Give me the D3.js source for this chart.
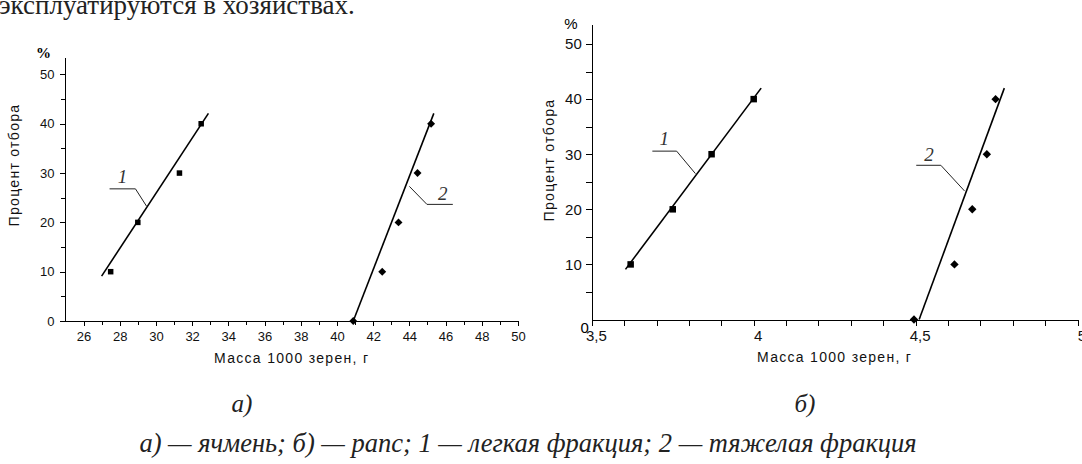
<!DOCTYPE html>
<meta charset="utf-8">
<style>
body { margin: 0; background: #fff; }
svg { display: block; }
.axis path, .axis line { stroke: #000; stroke-width: 1px; shape-rendering: crispEdges; fill: none; }
.axis text { font-family: 'Liberation Sans', Arial, sans-serif; fill: #111; }
.axis-title { font-family: 'Liberation Sans', Arial, sans-serif; font-size: 14px; letter-spacing: 1.3px; fill: #111; }
.fit-line { fill: none; stroke: #000; stroke-width: 1.6px; }
.leader { fill: none; stroke: #222; stroke-width: 1px; }
.curve-label { font-family: 'Liberation Serif', 'Times New Roman', serif; font-style: italic; font-size: 19px; fill: #333; text-anchor: middle; }
.caption { font-family: 'Liberation Serif', 'Times New Roman', serif; font-style: italic; fill: #222; }
</style>
<body>
<svg width="1082" height="464"></svg>
<script src="https://d3js.org/d3.v7.min.js"></script>
<script>
// а) ячмень: масса 1000 зерен (г) против процента отбора
var barleyLightX = [27.5, 29.0, 31.3, 32.5];
var barleyLightY = [10, 20, 30, 40];
var barleyHeavyX = [40.9, 42.5, 43.4, 44.45, 45.2];
var barleyHeavyY = [0, 10, 20, 30, 40];
var barleyLightFitX = [27.0, 32.9];
var barleyLightFitY = [9.1, 42.1];
var barleyHeavyFitX = [40.9, 45.35];
var barleyHeavyFitY = [0, 42.1];

// б) рапс
var rapeLightX = [3.62, 3.75, 3.87, 4.0];
var rapeLightY = [10, 20, 30, 40];
var rapeHeavyX = [4.495, 4.62, 4.675, 4.72, 4.747];
var rapeHeavyY = [0, 10, 20, 30, 40];
var rapeLightFitX = [3.604, 4.023];
var rapeLightFitY = [9.1, 42.0];
var rapeHeavyFitX = [4.511, 4.774];
var rapeHeavyFitY = [0, 42.0];

// tick values / labels
var barleyMajorX = d3.range(26, 51, 2);
var barleyMinorX = d3.range(27, 50, 2);
var rapeMajorX = [3.5, 4, 4.5, 5];
var rapeMinorX = [3.6, 3.7, 3.8, 3.9, 4.1, 4.2, 4.3, 4.4, 4.6, 4.7, 4.8, 4.9];
var yMajor = [0, 10, 20, 30, 40, 50];
var yMinor = [5, 15, 25, 35, 45];

var xTitle = "Масса 1000 зерен, г";
var yTitle = "Процент отбора";
var captionText = "а) — ячмень; б) — рапс; 1 — легкая фракция; 2 — тяжелая фракция";

var svg = d3.select("svg");

// text above the figure (cut off by the crop)
svg.append("text")
    .attr("x", -1).attr("y", 14)
    .attr("class", "caption")
    .style("font-style", "normal")
    .style("font-size", "27px")
    .text("эксплуатируются в хозяйствах.");

function drawPanel(p) {
  var x = d3.scaleLinear().domain(p.xDomain).range(p.xRange);
  var y = d3.scaleLinear().domain([0, p.yTop]).range(p.yRange);
  var g = svg.append("g");

  // minor ticks first
  g.append("g").attr("class", "axis")
      .attr("transform", "translate(0," + p.yRange[0] + ")")
      .call(d3.axisBottom(x).tickValues(p.minorX).tickSize(p.minorLen).tickFormat(""))
      .select(".domain").remove();
  g.append("g").attr("class", "axis")
      .attr("transform", "translate(" + p.xRange[0] + ",0)")
      .call(d3.axisLeft(y).tickValues(yMinor).tickSize(p.minorLen).tickFormat(""))
      .select(".domain").remove();

  var xa = g.append("g").attr("class", "axis")
      .attr("transform", "translate(0," + p.yRange[0] + ")")
      .call(d3.axisBottom(x).tickValues(p.majorX).tickSizeInner(p.majorLen).tickSizeOuter(0)
        .tickPadding(p.xPad).tickFormat(p.xFormat));
  xa.selectAll("text").style("font-size", p.tickFont + "px").attr("dx", p.xLabelDx);

  var ya = g.append("g").attr("class", "axis")
      .attr("transform", "translate(" + p.xRange[0] + ",0)")
      .call(d3.axisLeft(y).tickValues(p.yTicks).tickSizeInner(p.majorLen).tickSizeOuter(0)
        .tickPadding(p.yPad).tickFormat(d3.format("d")));
  ya.selectAll("text").style("font-size", p.tickFont + "px");

  if (p.cornerZero) {
    g.append("text")
        .attr("x", x(p.xDomain[0]) - 3).attr("y", y(0) + 13)
        .attr("text-anchor", "end")
        .style("font-family", "'Liberation Sans', Arial, sans-serif")
        .style("font-size", p.tickFont + "px")
        .text("0");
  }

  // "%"
  g.append("text")
      .attr("x", x(p.xDomain[0]) + p.pct.dx)
      .attr("y", y(p.yTop) + p.pct.dy)
      .attr("text-anchor", "middle")
      .style("font-family", p.pct.font)
      .style("font-weight", p.pct.weight)
      .style("font-size", p.pct.size + "px")
      .text("%");

  // axis titles
  g.append("text").attr("class", "axis-title")
      .attr("text-anchor", "middle")
      .attr("x", (p.xRange[0] + p.xRange[1]) / 2)
      .attr("y", p.yRange[0] + 42)
      .text(xTitle);
  g.append("text").attr("class", "axis-title")
      .attr("text-anchor", "middle")
      .attr("transform", "translate(" + (p.xRange[0] + p.yTitleDx) + "," + p.yTitleCy + ") rotate(-90)")
      .text(yTitle);

  var line = d3.line()
      .x(function(d) { return x(d[0]); })
      .y(function(d) { return y(d[1]); });

  p.fits.forEach(function(f) {
    g.append("path").attr("class", "fit-line")
        .attr("d", line(d3.zip(f[0], f[1])));
  });

  // squares: light fraction
  g.selectAll(".sq").data(d3.zip(p.lightX, p.lightY)).enter().append("rect")
      .attr("x", function(d) { return x(d[0]) - p.sq / 2; })
      .attr("y", function(d) { return y(d[1]) - p.sq / 2; })
      .attr("width", p.sq).attr("height", p.sq)
      .attr("fill", "#000");

  // diamonds: heavy fraction
  g.selectAll(".dm").data(d3.zip(p.heavyX, p.heavyY)).enter().append("path")
      .attr("d", d3.symbol(d3.symbolDiamond2, p.dm))
      .attr("transform", function(d) { return "translate(" + x(d[0]) + "," + y(d[1]) + ")"; })
      .attr("fill", "#000");

  // curve numbers with leader lines
  p.labels.forEach(function(l) {
    g.append("path").attr("class", "leader").attr("d", line(l.pts));
    g.append("text").attr("class", "curve-label")
        .attr("x", x(l.at[0])).attr("y", y(l.at[1]))
        .text(l.text);
  });
}

drawPanel({
  xDomain: [25, 50], xRange: [65.4, 518],
  yTop: 53.5, yRange: [321, 57.2],
  majorX: barleyMajorX, minorX: barleyMinorX,
  yTicks: yMajor, xFormat: d3.format("d"), xLabelDx: 0,
  majorLen: 5, minorLen: 4, xPad: 6, yPad: 6, tickFont: 13,
  cornerZero: false,
  pct: { dx: -22, dy: 1, font: "'Liberation Serif', serif", weight: "bold", size: 15 },
  yTitleDx: -46, yTitleCy: 165,
  fits: [[barleyLightFitX, barleyLightFitY], [barleyHeavyFitX, barleyHeavyFitY]],
  lightX: barleyLightX, lightY: barleyLightY,
  heavyX: barleyHeavyX, heavyY: barleyHeavyY,
  sq: 5.5, dm: 40,
  labels: [
    { text: "1", at: [28.15, 27.9], pts: [[27.44, 26.8], [28.87, 26.8], [29.48, 23.3]] },
    { text: "2", at: [45.84, 24.5], pts: [[44.0, 27.3], [44.97, 23.65], [46.4, 23.65]] }
  ]
});

drawPanel({
  xDomain: [3.5, 5], xRange: [591.8, 1077.5],
  yTop: 53.6, yRange: [319.5, 24.2],
  majorX: rapeMajorX, minorX: rapeMinorX,
  yTicks: yMajor.slice(1), xFormat: function(d) { return String(d).replace(".", ","); }, xLabelDx: 4,
  majorLen: 6, minorLen: 6, xPad: 5, yPad: 4, tickFont: 15,
  cornerZero: true,
  pct: { dx: -21, dy: 5, font: "'Liberation Sans', sans-serif", weight: "normal", size: 15 },
  yTitleDx: -38, yTitleCy: 160,
  fits: [[rapeLightFitX, rapeLightFitY], [rapeHeavyFitX, rapeHeavyFitY]],
  lightX: rapeLightX, lightY: rapeLightY,
  heavyX: rapeHeavyX, heavyY: rapeHeavyY,
  sq: 6.5, dm: 45,
  labels: [
    { text: "1", at: [3.724, 31.6], pts: [[3.687, 30.56], [3.762, 30.56], [3.820, 26.48]] },
    { text: "2", at: [4.541, 28.8], pts: [[4.502, 27.99], [4.578, 27.99], [4.651, 23.34]] }
  ]
});

// panel letters and caption
svg.append("text").attr("class", "caption")
    .attr("x", 242).attr("y", 412).attr("text-anchor", "middle")
    .style("font-size", "25px").text("а)");
svg.append("text").attr("class", "caption")
    .attr("x", 805).attr("y", 412).attr("text-anchor", "middle")
    .style("font-size", "25px").text("б)");
svg.append("text").attr("class", "caption")
    .attr("x", 528).attr("y", 452).attr("text-anchor", "middle")
    .style("font-size", "26.5px").text(captionText);
</script>
</body>
